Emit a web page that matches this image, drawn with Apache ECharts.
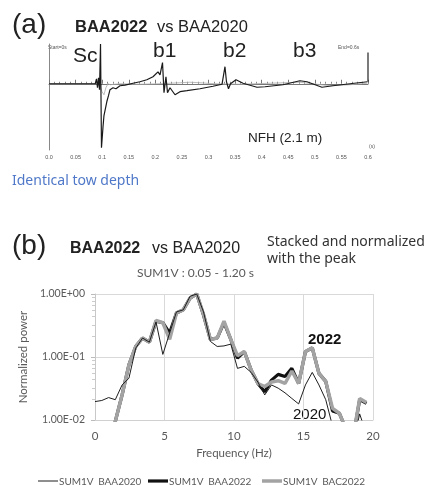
<!DOCTYPE html>
<html>
<head>
<meta charset="utf-8">
<script src="https://cdn.jsdelivr.net/npm/echarts@6/dist/echarts.min.js"></script>
<style>
  html, body { margin: 0; padding: 0; background: #fff; }
  #chart { width: 443px; height: 485px; }
</style>
</head>
<body>
<div id="chart"></div>
<script>
// ---- Panel (a): NFH waveform, time (s) vs relative amplitude ----
const traceBAA2022 = [
  [0, 0], [0.087, 0], [0.0893, 0.075], [0.0912, -0.06], [0.0931, 0.09], [0.095, -0.09],
  [0.0969, 0.6], [0.0987, -0.966], [0.1016, -0.65], [0.1034, -0.48], [0.1063, -0.51],
  [0.1091, -0.26], [0.1119, -0.18], [0.1147, -0.09], [0.1204, -0.06], [0.126, -0.075],
  [0.1335, -0.03], [0.143, -0.02], [0.158, 0.008], [0.171, 0.03], [0.184, 0.06],
  [0.1956, 0.105], [0.205, 0.18], [0.2088, 0.135], [0.2135, 0.32], [0.2163, -0.135],
  [0.22, 0.105], [0.2229, -0.135], [0.2276, -0.06], [0.2313, -0.075], [0.237, -0.166],
  [0.2464, -0.12], [0.2595, -0.105], [0.284, -0.075], [0.3084, -0.038], [0.3254, -0.008],
  [0.329, 0], [0.331, 0.257], [0.3338, 0.03], [0.3376, -0.075], [0.3414, 0],
  [0.3517, 0.06], [0.365, 0.008], [0.3912, -0.053], [0.4062, -0.045], [0.44, -0.015],
  [0.472, 0.045], [0.4852, 0.03], [0.5134, -0.053], [0.534, -0.03], [0.566, 0], [0.599, 0.03]
];
const traceBAA2020 = [
  [0, 0], [0.087, 0], [0.094, 0.03], [0.0969, 0.06], [0.0997, -0.12], [0.1034, -0.166],
  [0.107, -0.06], [0.111, 0], [0.115, -0.015], [0.133, 0], [0.171, -0.008], [0.209, 0],
  [0.228, 0.008], [0.246, 0.015], [0.265, 0.023], [0.284, 0.015], [0.312, 0],
  [0.359, -0.008], [0.416, 0.008], [0.472, 0.023], [0.528, -0.03], [0.566, -0.015], [0.599, 0.008]
];
// amplitude scale marker at the end of the record
const endMarker = [[0.6, 0.03], [0.6, 0.47]];

// ---- Panel (b): stacked, peak-normalized spectra ----
const freqHz = [0, 0.49, 0.98, 1.46, 1.95, 2.44, 2.93, 3.42, 3.91, 4.39, 4.88, 5.37, 5.86,
  6.35, 6.84, 7.32, 7.81, 8.30, 8.79, 9.28, 9.77, 10.25, 10.74, 11.23, 11.72, 12.21,
  12.70, 13.18, 13.67, 14.16, 14.65, 15.14, 15.63, 16.11, 16.60, 17.09, 17.58, 18.07,
  18.55, 19.04, 19.53];
const sumBAA2020 = [0.0196, 0.0204, 0.0227, 0.021, 0.036, 0.046, 0.138, 0.20, 0.172, 0.36,
  0.11, 0.24, 0.52, 0.56, 0.92, 1.0, 0.52, 0.177, 0.147, 0.15, 0.16, 0.066, 0.071, 0.057,
  0.04, 0.025, 0.036, 0.032, 0.027, 0.022, 0.018, 0.036, 0.057, 0.036, 0.021, 0.008,
  0.004, 0.003, 0.004, 0.0125, 0.006];
const sumBAA2022 = [0.003, 0.004, 0.006, 0.0095, 0.025, 0.075, 0.147, 0.20, 0.172, 0.37,
  0.35, 0.24, 0.50, 0.56, 0.86, 1.0, 0.46, 0.19, 0.20, 0.35, 0.19, 0.096, 0.122, 0.0625,
  0.038, 0.028, 0.043, 0.053, 0.049, 0.066, 0.038, 0.122, 0.14, 0.055, 0.041, 0.0139,
  0.0128, 0.007, 0.005, 0.021, 0.0184];
const sumBAC2022 = [0.003, 0.004, 0.006, 0.0095, 0.025, 0.075, 0.147, 0.20, 0.172, 0.38,
  0.35, 0.19, 0.50, 0.56, 0.86, 1.0, 0.47, 0.19, 0.20, 0.37, 0.19, 0.105, 0.122, 0.0625,
  0.038, 0.034, 0.04, 0.042, 0.038, 0.06, 0.038, 0.122, 0.14, 0.055, 0.041, 0.0153,
  0.0128, 0.007, 0.005, 0.022, 0.019];
const seriesNames = ['SUM1V_BAA2020', 'SUM1V_BAA2022', 'SUM1V_BAC2022'];

const pair = (xs, ys) => xs.map((x, i) => [x, ys[i]]);

function sciLabel(v) {
  const e = Math.round(Math.log10(v));
  const sign = e < 0 ? '-' : '+';
  const mag = String(Math.abs(e)).padStart(2, '0');
  return (v / Math.pow(10, e)).toFixed(2) + 'E' + sign + mag;
}

const ARIAL = '"Liberation Sans", Arial, sans-serif';
const EXCEL = 'Lato, "Open Sans", sans-serif';
const NOTO = '"Noto Sans", sans-serif';

const specStyles = [
  { color: '#1e1e1e', width: 1 },
  { color: '#111111', width: 3.2 },
  { color: '#a3a3a3', width: 3.5 }
];

function txt(x, y, text, size, opts) {
  opts = opts || {};
  return {
    type: 'text', x: x, y: y, silent: true,
    style: {
      text: text, fontSize: size, fontFamily: opts.family || ARIAL,
      fontWeight: opts.weight || 'normal', fill: opts.color || '#222',
      textAlign: opts.align || 'left', textVerticalAlign: 'middle'
    }
  };
}

// legend row drawn as key line + label
const legendX = [38, 148, 262];
const legendGraphics = [];
seriesNames.forEach((name, i) => {
  legendGraphics.push({
    type: 'line', silent: true,
    shape: { x1: legendX[i], y1: 481, x2: legendX[i] + 20, y2: 481 },
    style: { stroke: specStyles[i].color, lineWidth: specStyles[i].width }
  });
  legendGraphics.push(txt(legendX[i] + 21, 482, name, 10, { family: EXCEL, color: '#595959' }));
});

const chart = echarts.init(document.getElementById('chart'), null, { renderer: 'canvas' });

chart.setOption({
  animation: false,
  backgroundColor: '#fff',
  grid: [
    { left: 49, top: 44, width: 319, height: 106 },
    { left: 95, top: 294, width: 278, height: 126 }
  ],
  xAxis: [
    {
      gridIndex: 0, type: 'value', min: 0, max: 0.6, interval: 0.05,
      axisLine: { lineStyle: { color: '#777', width: 1 } },
      axisTick: { inside: true, length: 4, lineStyle: { color: '#777' } },
      minorTick: { show: true, splitNumber: 5, length: 2, lineStyle: { color: '#888' } },
      axisLabel: {
        fontSize: 5.5, color: '#555', margin: 4, fontFamily: ARIAL,
        formatter: v => (v === 0 ? '0.0' : String(+v.toFixed(2)))
      },
      splitLine: { show: false }
    },
    {
      gridIndex: 1, type: 'value', min: 0, max: 20, interval: 5,
      axisLine: { lineStyle: { color: '#d0d0d0' } },
      axisTick: { show: false },
      axisLabel: { fontSize: 11.5, color: '#595959', margin: 10, fontFamily: EXCEL },
      splitLine: { show: true, lineStyle: { color: '#d9d9d9' } },
      name: 'Frequency (Hz)', nameLocation: 'middle', nameGap: 27,
      nameTextStyle: { fontSize: 11.5, color: '#595959', fontFamily: EXCEL }
    }
  ],
  yAxis: [
    {
      gridIndex: 0, type: 'value', min: -1, max: 0.6,
      axisLine: { show: true, lineStyle: { color: '#888' } },
      axisTick: { show: false }, axisLabel: { show: false }, splitLine: { show: false }
    },
    {
      gridIndex: 1, type: 'log', logBase: 10, min: 0.01, max: 1,
      axisLine: { show: true, lineStyle: { color: '#c8c8c8' } },
      axisTick: { show: true, length: 4, lineStyle: { color: '#bbb' } },
      minorTick: { show: true, splitNumber: 8, length: 3, lineStyle: { color: '#ccc' } },
      axisLabel: { fontSize: 10.5, color: '#595959', margin: 10, fontFamily: EXCEL, formatter: sciLabel },
      splitLine: { show: true, lineStyle: { color: '#d9d9d9' } },
      name: 'Normalized power', nameLocation: 'middle', nameGap: 57, nameRotate: 90,
      nameTextStyle: { fontSize: 11.5, color: '#595959', fontFamily: EXCEL }
    }
  ],
  series: [
    {
      name: 'NFH BAA2020', type: 'line', xAxisIndex: 0, yAxisIndex: 0,
      data: traceBAA2020, symbol: 'none', lineStyle: { color: '#aaa', width: 0.8 }, z: 2
    },
    {
      name: 'NFH BAA2022', type: 'line', xAxisIndex: 0, yAxisIndex: 0,
      data: traceBAA2022, symbol: 'none', lineStyle: { color: '#1a1a1a', width: 1.2 }, z: 3
    },
    {
      name: 'scale', type: 'line', xAxisIndex: 0, yAxisIndex: 0,
      data: endMarker, symbol: 'none', lineStyle: { color: '#222', width: 1.2 }, z: 3
    },
    {
      name: seriesNames[0], type: 'line', xAxisIndex: 1, yAxisIndex: 1,
      data: pair(freqHz, sumBAA2020), symbol: 'none', clip: true,
      lineStyle: specStyles[0], z: 5
    },
    {
      name: seriesNames[1], type: 'line', xAxisIndex: 1, yAxisIndex: 1,
      data: pair(freqHz, sumBAA2022), symbol: 'none', clip: true,
      lineStyle: specStyles[1], z: 3
    },
    {
      name: seriesNames[2], type: 'line', xAxisIndex: 1, yAxisIndex: 1,
      data: pair(freqHz, sumBAC2022), symbol: 'none', clip: true,
      lineStyle: specStyles[2], z: 4
    }
  ],
  graphic: [
    txt(12, 25, '(a)', 28),
    txt(75, 27, 'BAA2022', 16.5, { weight: 'bold' }),
    txt(157, 27, 'vs BAA2020', 16.5),
    txt(73, 56, 'Sc', 21),
    txt(153, 51, 'b1', 21),
    txt(223, 51, 'b2', 21),
    txt(293, 51, 'b3', 21),
    txt(248, 138, 'NFH (2.1 m)', 13.5),
    txt(48, 48, 'Start=0s', 5, { color: '#555' }),
    txt(338, 48, 'End=0.6s', 5, { color: '#555' }),
    txt(369, 147, '(s)', 5, { color: '#555' }),
    txt(12, 181, 'Identical tow depth', 14, { family: NOTO, color: '#4f78c8' }),
    txt(12, 246, '(b)', 28),
    txt(70, 249, 'BAA2022', 16, { weight: 'bold' }),
    txt(152, 249, 'vs BAA2020', 16),
    txt(267, 242, 'Stacked and normalized', 14, { family: NOTO, color: '#333' }),
    txt(267, 259, 'with the peak', 14, { family: NOTO, color: '#333' }),
    txt(137, 273, 'SUM1V : 0.05 - 1.20 s', 12, { family: EXCEL, color: '#595959' }),
    txt(308, 340, '2022', 15, { weight: 'bold', color: '#111' }),
    txt(293, 415, '2020', 15, { color: '#111' })
  ].concat(legendGraphics)
});
</script>
</body>
</html>
